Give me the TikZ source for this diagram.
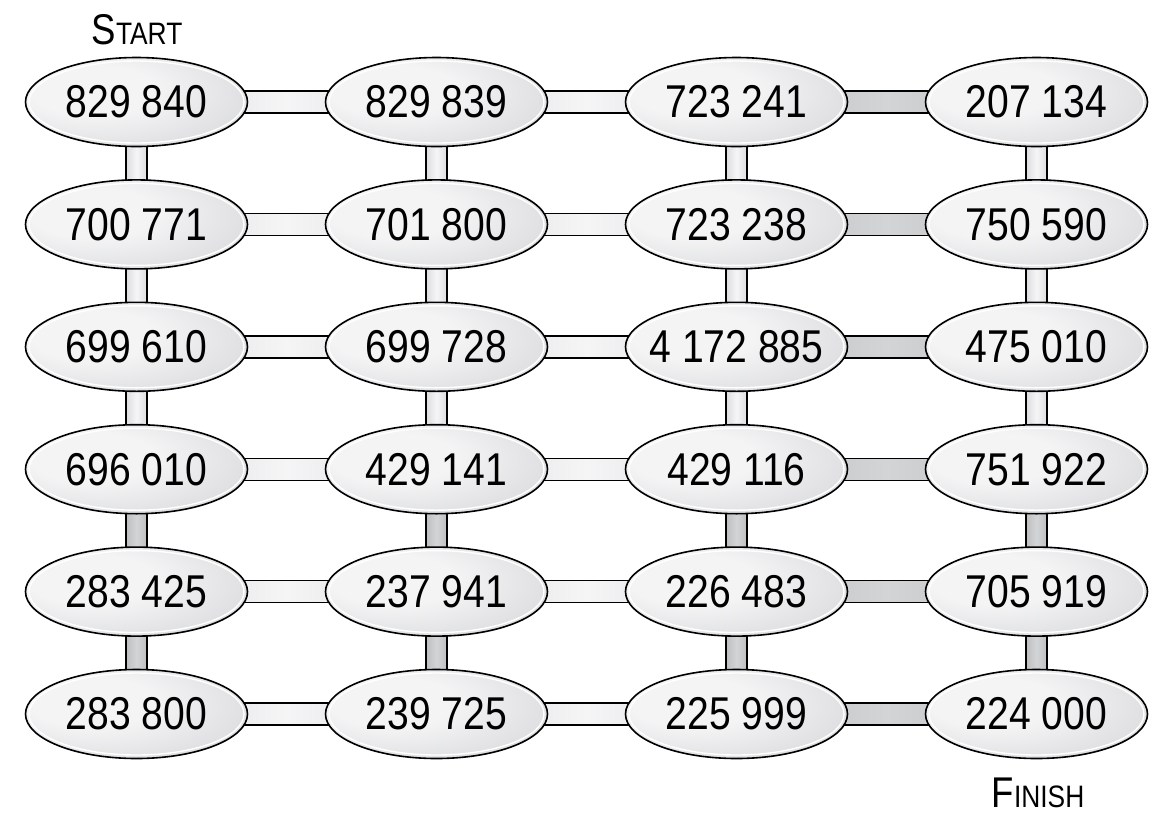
\documentclass[tikz,border=0pt]{standalone}
\usepackage{fontspec}
\setmainfont{Liberation Sans}
\newfontfamily\lcd[FakeStretch=0.85]{Liberation Sans}
\usetikzlibrary{shapes.geometric,calc}
\pgfdeclarelayer{bg}
\pgfsetlayers{bg,main}
\definecolor{ovhi}{HTML}{F4F4F5}
\definecolor{ovmid}{HTML}{D6D7D9}
\definecolor{ovlo}{HTML}{A9AAAC}
\definecolor{clE}{HTML}{DCDDDF}
\definecolor{clM}{HTML}{F5F5F6}
\definecolor{cdE}{HTML}{BEBFC1}
\definecolor{cdM}{HTML}{D3D4D6}
\pgfdeclareradialshading{ovalshade}{\pgfpoint{-12bp}{8bp}}{color(0bp)=(ovhi); color(14bp)=(ovhi); color(40bp)=(ovmid); color(62bp)=(ovlo); color(80bp)=(ovlo)}
\tikzset{
  oval/.style={ellipse, draw=black, line width=1.6pt, minimum width=222pt, minimum height=89pt,
    inner sep=0pt, shading=ovalshade, font=\lcd\fontsize{46}{46}\selectfont,
    path picture={\draw[white,line width=1.4pt] (path picture bounding box.center) ellipse [x radius=107.5pt, y radius=41pt];}},
  lightconn/.style={draw=black, line width=1.4pt, shading=axis, left color=clE, right color=clE, middle color=clM},
  darkconn/.style={draw=black, line width=1.4pt, shading=axis, left color=cdE, right color=cdE, middle color=cdM},
  lbl/.style={anchor=base, inner sep=0pt, font=\lcd}
}
\newcommand{\hconn}[3]{\draw[#1] ($(#2)+(0,-11)$) rectangle ($(#3)+(0,11)$);}
\newcommand{\vconn}[3]{\draw[#1] ($(#2)+(-10.5,0)$) rectangle ($(#3)+(10.5,0)$);}
\newcommand{\num}[1]{\makebox[0pt][c]{#1}}
\begin{document}
\begin{tikzpicture}[x=1pt,y=-1pt]
\useasboundingbox (0,0) rectangle (1160,820);
% row 1
\node[oval] (e11) at (136.5,102) {\num{829 840}};
\node[oval] (e12) at (436.5,102) {\num{829 839}};
\node[oval] (e13) at (736.5,102) {\num{723 241}};
\node[oval] (e14) at (1036.5,102) {\num{207 134}};
% row 2
\node[oval] (e21) at (136.5,224.4) {\num{700 771}};
\node[oval] (e22) at (436.5,224.4) {\num{701 800}};
\node[oval] (e23) at (736.5,224.4) {\num{723 238}};
\node[oval] (e24) at (1036.5,224.4) {\num{750 590}};
% row 3
\node[oval] (e31) at (136.5,346.8) {\num{699 610}};
\node[oval] (e32) at (436.5,346.8) {\num{699 728}};
\node[oval] (e33) at (736.5,346.8) {\num{4 172 885}};
\node[oval] (e34) at (1036.5,346.8) {\num{475 010}};
% row 4
\node[oval] (e41) at (136.5,469.2) {\num{696 010}};
\node[oval] (e42) at (436.5,469.2) {\num{429 141}};
\node[oval] (e43) at (736.5,469.2) {\num{429 116}};
\node[oval] (e44) at (1036.5,469.2) {\num{751 922}};
% row 5
\node[oval] (e51) at (136.5,591.6) {\num{283 425}};
\node[oval] (e52) at (436.5,591.6) {\num{237 941}};
\node[oval] (e53) at (736.5,591.6) {\num{226 483}};
\node[oval] (e54) at (1036.5,591.6) {\num{705 919}};
% row 6
\node[oval] (e61) at (136.5,714) {\num{283 800}};
\node[oval] (e62) at (436.5,714) {\num{239 725}};
\node[oval] (e63) at (736.5,714) {\num{225 999}};
\node[oval] (e64) at (1036.5,714) {\num{224 000}};
% labels
\node[lbl] (start) at (137,44) {{\fontsize{43}{43}\selectfont S}{\fontsize{31}{31}\selectfont TART}};
\node[lbl] (finish) at (1038,807) {{\fontsize{43}{43}\selectfont F}{\fontsize{31}{31}\selectfont INISH}};
\begin{pgfonlayer}{bg}
\foreach \r in {1,...,6}{
  \hconn{lightconn}{e\r1.center}{e\r2.center}
  \hconn{lightconn}{e\r2.center}{e\r3.center}
  \hconn{darkconn}{e\r3.center}{e\r4.center}
}
\foreach \c in {1,...,4}{
  \vconn{lightconn}{e1\c.center}{e2\c.center}
  \vconn{lightconn}{e2\c.center}{e3\c.center}
  \vconn{lightconn}{e3\c.center}{e4\c.center}
  \vconn{darkconn}{e4\c.center}{e5\c.center}
  \vconn{darkconn}{e5\c.center}{e6\c.center}
}
\end{pgfonlayer}
\end{tikzpicture}
\end{document}
